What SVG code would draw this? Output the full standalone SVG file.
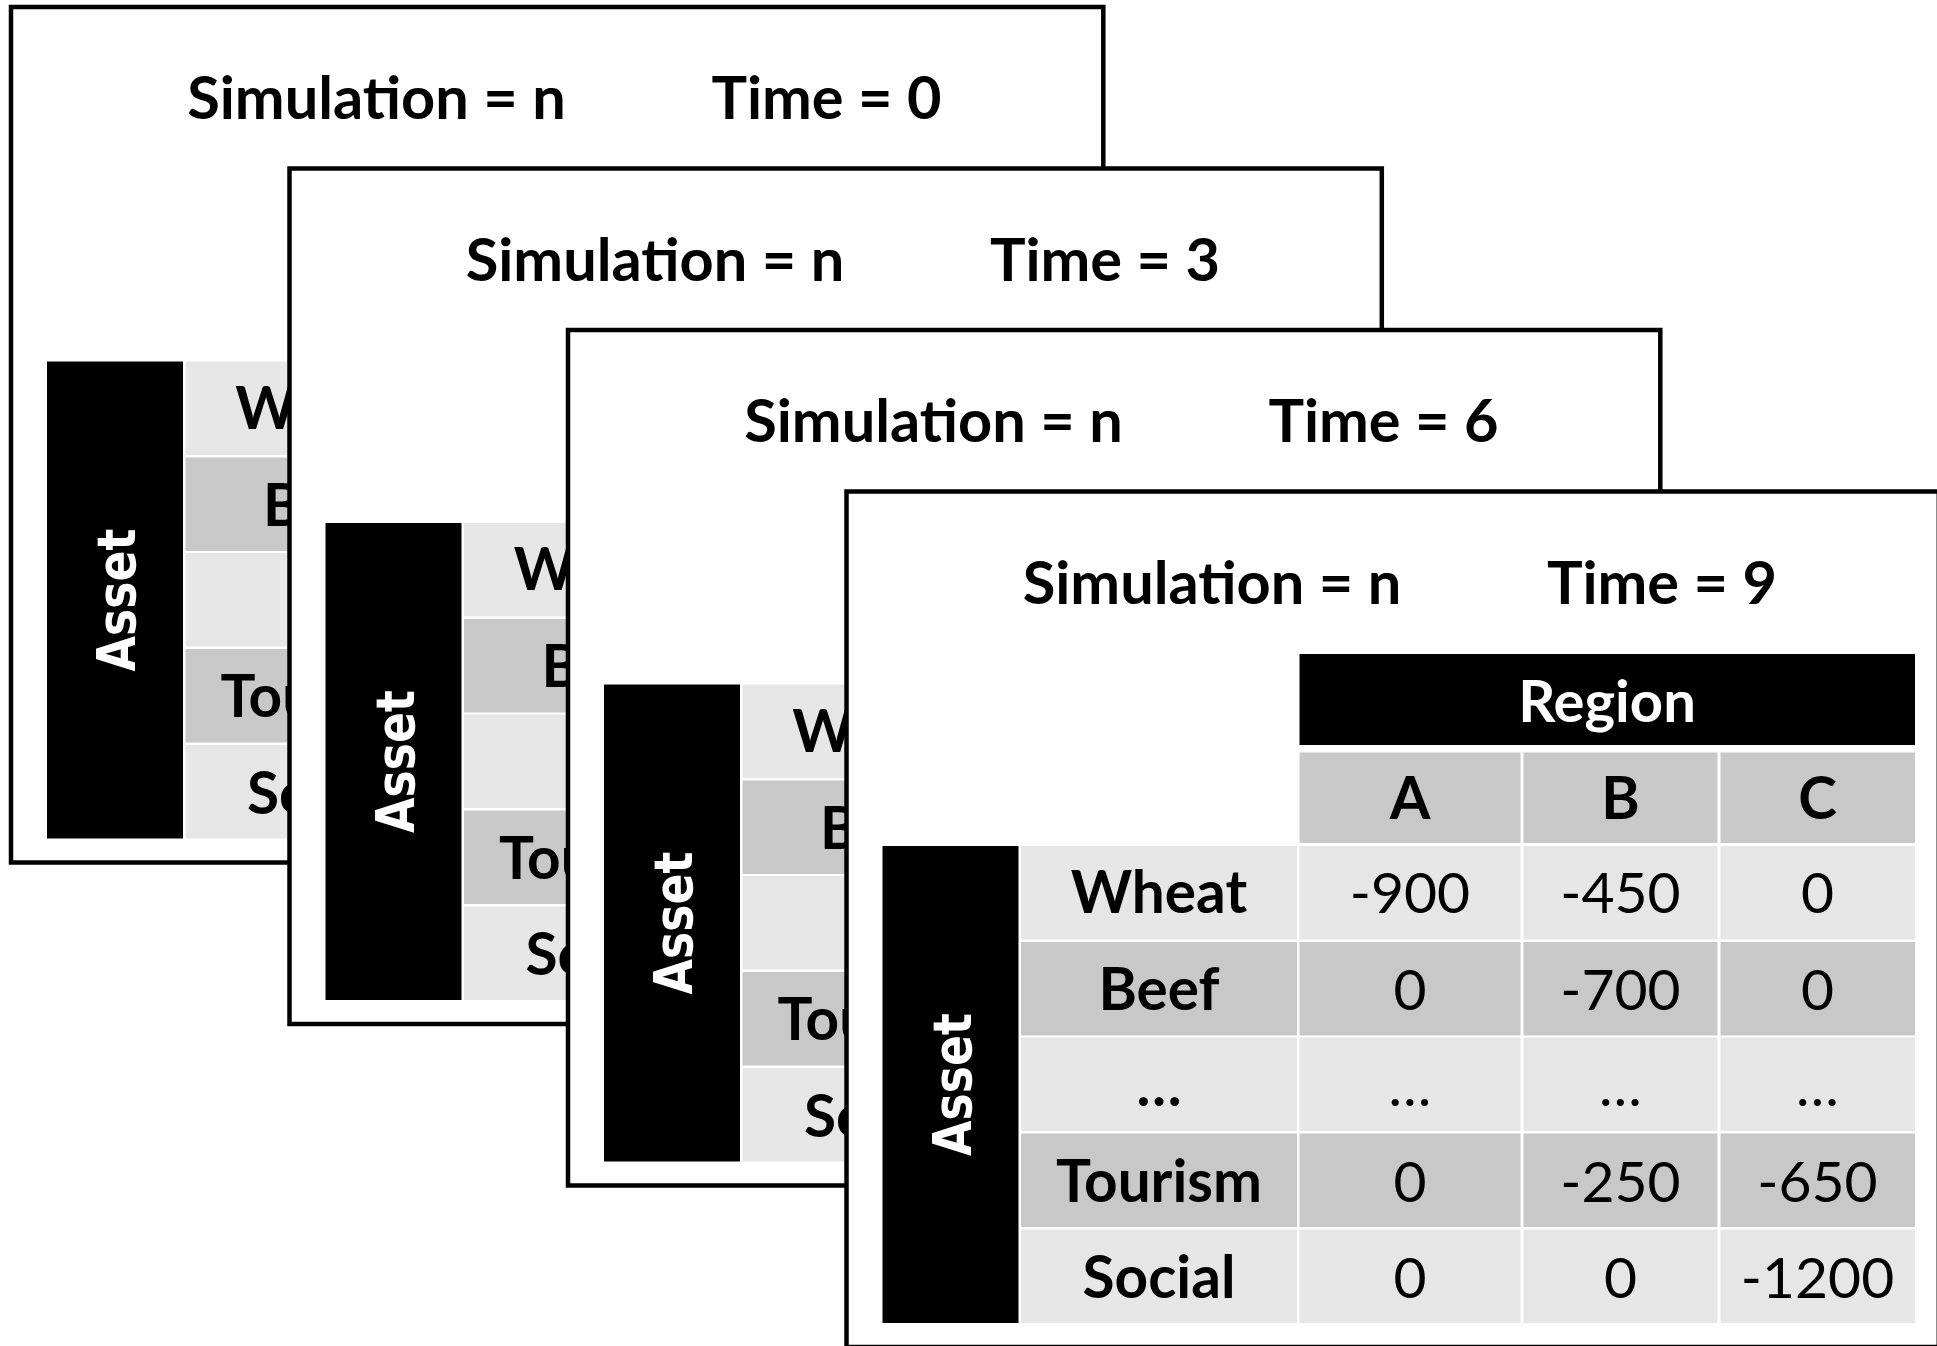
<svg xmlns="http://www.w3.org/2000/svg" width="1937" height="1346" viewBox="0 0 1937 1346">
<style>
.frame{fill:#ffffff;stroke:#000000;stroke-width:4.5}
.blk{fill:#000000}
.dk{fill:#c8c8c8}
.lt{fill:#e6e6e6}
.title{font-family:Lato,"Liberation Sans",sans-serif;font-weight:bold;font-size:59.5px;fill:#000;text-anchor:middle}
.lbl{font-family:Lato,"Liberation Sans",sans-serif;font-weight:bold;font-size:58.5px;fill:#000;text-anchor:middle}
.num{font-family:Lato,"Liberation Sans",sans-serif;font-weight:normal;font-size:57px;fill:#000;text-anchor:middle}
.wlbl{font-family:Lato,"Liberation Sans",sans-serif;font-weight:bold;font-size:58px;fill:#fff;text-anchor:middle}
.asset{font-family:"DejaVu Sans",Verdana,sans-serif;font-weight:bold;font-size:54px;fill:#fff;text-anchor:middle}
</style>
<g id="connectors"></g>

<g id="frame-t0" transform="translate(11,7)">
  <rect class="frame" x="0" y="0" width="1092.3" height="855.5"/>
  <text class="title" x="365.5" y="112">Simulation = n</text>
  <text class="title" x="815.5" y="112">Time = 0</text>
  <rect class="blk" x="36" y="354.5" width="136" height="477"/>
  <text class="asset" transform="translate(104,593) rotate(-90)" x="0" y="20" textLength="143" lengthAdjust="spacingAndGlyphs">Asset</text>
  <rect class="lt" x="174.5" y="354.5" width="276" height="93.5"/>
  <rect class="dk" x="174.5" y="450.5" width="276" height="93.5"/>
  <rect class="lt" x="174.5" y="546" width="276" height="93.5"/>
  <rect class="dk" x="174.5" y="642" width="276" height="93.5"/>
  <rect class="lt" x="174.5" y="738" width="276" height="93.5"/>
  <text class="lbl" x="312.5" y="421.5">Wheat</text>
  <text class="lbl" x="312.5" y="518.5">Beef</text>
  <text class="lbl" x="312.5" y="710">Tourism</text>
  <text class="lbl" x="312.5" y="806.5">Social</text>
</g>

<g id="frame-t3" transform="translate(289.5,168.5)">
  <rect class="frame" x="0" y="0" width="1092.3" height="855.5"/>
  <text class="title" x="365.5" y="112">Simulation = n</text>
  <text class="title" x="815.5" y="112">Time = 3</text>
  <rect class="blk" x="36" y="354.5" width="136" height="477"/>
  <text class="asset" transform="translate(104,593) rotate(-90)" x="0" y="20" textLength="143" lengthAdjust="spacingAndGlyphs">Asset</text>
  <rect class="lt" x="174.5" y="354.5" width="276" height="93.5"/>
  <rect class="dk" x="174.5" y="450.5" width="276" height="93.5"/>
  <rect class="lt" x="174.5" y="546" width="276" height="93.5"/>
  <rect class="dk" x="174.5" y="642" width="276" height="93.5"/>
  <rect class="lt" x="174.5" y="738" width="276" height="93.5"/>
  <text class="lbl" x="312.5" y="421.5">Wheat</text>
  <text class="lbl" x="312.5" y="518.5">Beef</text>
  <text class="lbl" x="312.5" y="710">Tourism</text>
  <text class="lbl" x="312.5" y="806.5">Social</text>
</g>

<g id="frame-t6" transform="translate(568,330)">
  <rect class="frame" x="0" y="0" width="1092.3" height="855.5"/>
  <text class="title" x="365.5" y="112">Simulation = n</text>
  <text class="title" x="815.5" y="112">Time = 6</text>
  <rect class="blk" x="36" y="354.5" width="136" height="477"/>
  <text class="asset" transform="translate(104,593) rotate(-90)" x="0" y="20" textLength="143" lengthAdjust="spacingAndGlyphs">Asset</text>
  <rect class="lt" x="174.5" y="354.5" width="276" height="93.5"/>
  <rect class="dk" x="174.5" y="450.5" width="276" height="93.5"/>
  <rect class="lt" x="174.5" y="546" width="276" height="93.5"/>
  <rect class="dk" x="174.5" y="642" width="276" height="93.5"/>
  <rect class="lt" x="174.5" y="738" width="276" height="93.5"/>
  <text class="lbl" x="312.5" y="421.5">Wheat</text>
  <text class="lbl" x="312.5" y="518.5">Beef</text>
  <text class="lbl" x="312.5" y="710">Tourism</text>
  <text class="lbl" x="312.5" y="806.5">Social</text>
</g>

<g id="frame-t9" transform="translate(846.5,491.5)">
  <rect class="frame" x="0" y="0" width="1092.3" height="855.5"/>
  <text class="title" x="365.5" y="112">Simulation = n</text>
  <text class="title" x="815.5" y="112">Time = 9</text>
  <rect class="blk" x="453" y="162.5" width="615.5" height="91"/>
  <text class="wlbl" x="760.5" y="230">Region</text>
  <rect class="dk" x="453" y="261" width="221" height="90.5"/>
  <rect class="dk" x="677" y="261" width="194" height="90.5"/>
  <rect class="dk" x="874" y="261" width="194.5" height="90.5"/>
  <text class="lbl" x="563.5" y="327">A</text>
  <text class="lbl" x="774" y="327">B</text>
  <text class="lbl" x="971" y="327">C</text>
  <rect class="blk" x="36" y="354.5" width="136" height="477"/>
  <text class="asset" transform="translate(104,593) rotate(-90)" x="0" y="20" textLength="143" lengthAdjust="spacingAndGlyphs">Asset</text>
  <g id="row-wheat">
    <rect class="lt" x="174.5" y="354.5" width="276" height="93.5"/>
    <rect class="lt" x="453" y="354.5" width="221" height="93.5"/>
    <rect class="lt" x="677" y="354.5" width="194" height="93.5"/>
    <rect class="lt" x="874" y="354.5" width="194.5" height="93.5"/>
    <text class="lbl" x="312.5" y="421.5">Wheat</text>
    <text class="num" x="563.5" y="421.5">-900</text>
    <text class="num" x="774" y="421.5">-450</text>
    <text class="num" x="971" y="421.5">0</text>
  </g>
  <g id="row-beef">
    <rect class="dk" x="174.5" y="450.5" width="276" height="93.5"/>
    <rect class="dk" x="453" y="450.5" width="221" height="93.5"/>
    <rect class="dk" x="677" y="450.5" width="194" height="93.5"/>
    <rect class="dk" x="874" y="450.5" width="194.5" height="93.5"/>
    <text class="lbl" x="312.5" y="518.5">Beef</text>
    <text class="num" x="563.5" y="518.5">0</text>
    <text class="num" x="774" y="518.5">-700</text>
    <text class="num" x="971" y="518.5">0</text>
  </g>
  <g id="row-etc">
    <rect class="lt" x="174.5" y="546" width="276" height="93.5"/>
    <rect class="lt" x="453" y="546" width="221" height="93.5"/>
    <rect class="lt" x="677" y="546" width="194" height="93.5"/>
    <rect class="lt" x="874" y="546" width="194.5" height="93.5"/>
    <text class="lbl" x="312.5" y="614">…</text>
    <text class="num" x="563.5" y="614">…</text>
    <text class="num" x="774" y="614">…</text>
    <text class="num" x="971" y="614">…</text>
  </g>
  <g id="row-tourism">
    <rect class="dk" x="174.5" y="642" width="276" height="93.5"/>
    <rect class="dk" x="453" y="642" width="221" height="93.5"/>
    <rect class="dk" x="677" y="642" width="194" height="93.5"/>
    <rect class="dk" x="874" y="642" width="194.5" height="93.5"/>
    <text class="lbl" x="312.5" y="710">Tourism</text>
    <text class="num" x="563.5" y="710">0</text>
    <text class="num" x="774" y="710">-250</text>
    <text class="num" x="971" y="710">-650</text>
  </g>
  <g id="row-social">
    <rect class="lt" x="174.5" y="738" width="276" height="93.5"/>
    <rect class="lt" x="453" y="738" width="221" height="93.5"/>
    <rect class="lt" x="677" y="738" width="194" height="93.5"/>
    <rect class="lt" x="874" y="738" width="194.5" height="93.5"/>
    <text class="lbl" x="312.5" y="806.5">Social</text>
    <text class="num" x="563.5" y="806.5">0</text>
    <text class="num" x="774" y="806.5">0</text>
    <text class="num" x="971" y="806.5">-1200</text>
  </g>
</g>
</svg>
